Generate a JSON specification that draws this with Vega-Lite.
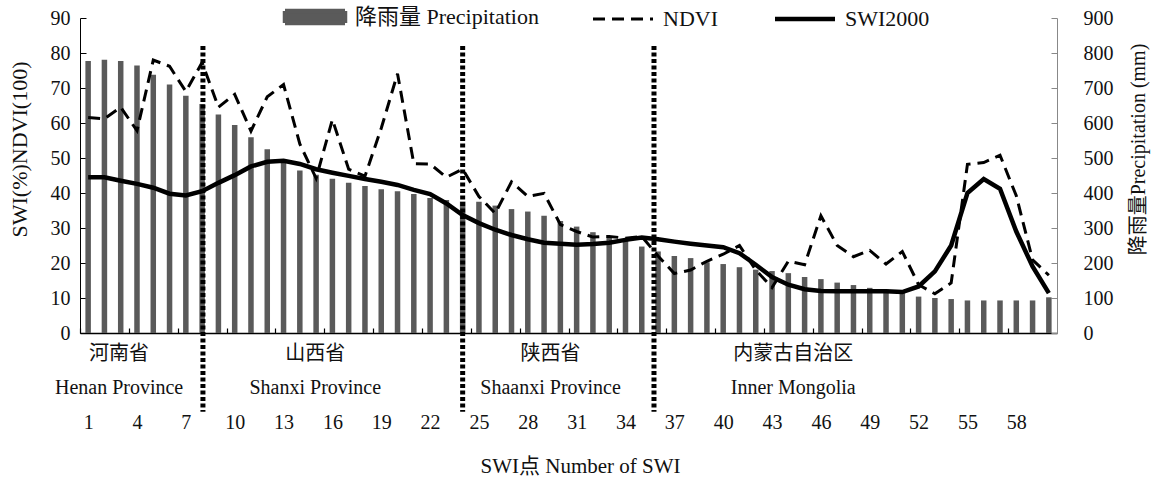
{
  "$schema": "https://vega.github.io/schema/vega-lite/v6.json",
  "width": 977,
  "height": 315,
  "autosize": "none",
  "padding": {"left": 80, "top": 18, "right": 103, "bottom": 146},
  "background": "white",
  "config": {
    "view": {"stroke": null},
    "font": "Liberation Serif, Noto Sans CJK SC",
    "axis": {"labelFont": "Liberation Serif, Noto Sans CJK SC", "titleFont": "Liberation Serif, Noto Sans CJK SC", "labelColor": "#111", "titleColor": "#111", "grid": false, "titleFontWeight": "normal"},
    "axisLeft": {
      "values": [0, 10, 20, 30, 40, 50, 60, 70, 80, 90],
      "titleFontSize": 22,
      "titleAngle": -90,
      "titleX": -61,
      "titleY": 131,
      "titleAlign": "center",
      "titleBaseline": "middle",
      "labelFontSize": 20,
      "labelPadding": 16,
      "tickSize": -6,
      "domainColor": "#000",
      "tickColor": "#000"
    },
    "legend": {"labelFont": "Liberation Serif, Noto Sans CJK SC"}
  },
  "datasets": {
    "main": [
      {"pt": 1, "precip": 777, "ndvi": 61.6, "swi": 44.5},
      {"pt": 2, "precip": 781, "ndvi": 61.2, "swi": 44.5},
      {"pt": 3, "precip": 777, "ndvi": 64.5, "swi": 43.5},
      {"pt": 4, "precip": 764, "ndvi": 57.8, "swi": 42.6},
      {"pt": 5, "precip": 738, "ndvi": 78, "swi": 41.5},
      {"pt": 6, "precip": 710, "ndvi": 76.2, "swi": 39.8},
      {"pt": 7, "precip": 678, "ndvi": 69, "swi": 39.3},
      {"pt": 8, "precip": 654, "ndvi": 77.3, "swi": 40.5},
      {"pt": 9, "precip": 624, "ndvi": 64.5, "swi": 42.9},
      {"pt": 10, "precip": 594, "ndvi": 68.2, "swi": 45.1},
      {"pt": 11, "precip": 559, "ndvi": 57.7, "swi": 47.6},
      {"pt": 12, "precip": 525, "ndvi": 67.5, "swi": 48.9},
      {"pt": 13, "precip": 495, "ndvi": 71, "swi": 49.2},
      {"pt": 14, "precip": 464, "ndvi": 54, "swi": 48.3},
      {"pt": 15, "precip": 452, "ndvi": 44.2, "swi": 46.8},
      {"pt": 16, "precip": 441, "ndvi": 61, "swi": 45.8},
      {"pt": 17, "precip": 429, "ndvi": 46.8, "swi": 44.9},
      {"pt": 18, "precip": 420, "ndvi": 44.8, "swi": 44},
      {"pt": 19, "precip": 411, "ndvi": 58.5, "swi": 43.2},
      {"pt": 20, "precip": 405, "ndvi": 74.1, "swi": 42.3},
      {"pt": 21, "precip": 397, "ndvi": 48.4, "swi": 40.9},
      {"pt": 22, "precip": 386, "ndvi": 48.3, "swi": 39.7},
      {"pt": 23, "precip": 380, "ndvi": 44.5, "swi": 37},
      {"pt": 24, "precip": 376, "ndvi": 46.8, "swi": 33.7},
      {"pt": 25, "precip": 375, "ndvi": 39, "swi": 31.4},
      {"pt": 26, "precip": 364, "ndvi": 34.2, "swi": 29.5},
      {"pt": 27, "precip": 354, "ndvi": 43.2, "swi": 28},
      {"pt": 28, "precip": 347, "ndvi": 39, "swi": 26.8},
      {"pt": 29, "precip": 335, "ndvi": 39.9, "swi": 25.8},
      {"pt": 30, "precip": 320, "ndvi": 31, "swi": 25.5},
      {"pt": 31, "precip": 304, "ndvi": 29, "swi": 25.2},
      {"pt": 32, "precip": 288, "ndvi": 27.4, "swi": 25.4},
      {"pt": 33, "precip": 276, "ndvi": 27.6, "swi": 25.8},
      {"pt": 34, "precip": 265, "ndvi": 27.1, "swi": 26.6},
      {"pt": 35, "precip": 247, "ndvi": 27.6, "swi": 27.3},
      {"pt": 36, "precip": 233, "ndvi": 22, "swi": 26.8},
      {"pt": 37, "precip": 220, "ndvi": 17, "swi": 26.1},
      {"pt": 38, "precip": 214, "ndvi": 18, "swi": 25.5},
      {"pt": 39, "precip": 202, "ndvi": 20.5, "swi": 25},
      {"pt": 40, "precip": 197, "ndvi": 22.5, "swi": 24.5},
      {"pt": 41, "precip": 188, "ndvi": 25, "swi": 22.8},
      {"pt": 42, "precip": 181, "ndvi": 18, "swi": 19.5},
      {"pt": 43, "precip": 177, "ndvi": 13, "swi": 16},
      {"pt": 44, "precip": 171, "ndvi": 20.5, "swi": 13.8},
      {"pt": 45, "precip": 160, "ndvi": 19.5, "swi": 12.5},
      {"pt": 46, "precip": 154, "ndvi": 33.5, "swi": 12},
      {"pt": 47, "precip": 144, "ndvi": 25, "swi": 11.9},
      {"pt": 48, "precip": 137, "ndvi": 21.8, "swi": 11.9},
      {"pt": 49, "precip": 129, "ndvi": 23.6, "swi": 11.9},
      {"pt": 50, "precip": 124, "ndvi": 19.7, "swi": 11.9},
      {"pt": 51, "precip": 120, "ndvi": 23.3, "swi": 11.7},
      {"pt": 52, "precip": 104, "ndvi": 13.8, "swi": 13.3},
      {"pt": 53, "precip": 100, "ndvi": 11.2, "swi": 17.6},
      {"pt": 54, "precip": 97, "ndvi": 14.3, "swi": 25},
      {"pt": 55, "precip": 93, "ndvi": 48.2, "swi": 40},
      {"pt": 56, "precip": 93, "ndvi": 48.7, "swi": 44},
      {"pt": 57, "precip": 93, "ndvi": 50.8, "swi": 41.2},
      {"pt": 58, "precip": 93, "ndvi": 39.2, "swi": 29},
      {"pt": 59, "precip": 93, "ndvi": 20.9, "swi": 19},
      {"pt": 60, "precip": 102, "ndvi": 16.5, "swi": 11.4}
    ],
    "prov": [
      {"pt": 2.9, "cn": "河南省", "en": "Henan Province"},
      {"pt": 14.95, "cn": "山西省", "en": "Shanxi Province"},
      {"pt": 29.4, "cn": "陕西省", "en": "Shaanxi Province"},
      {"pt": 44.3, "cn": "内蒙古自治区", "en": "Inner Mongolia"}
    ],
    "bounds": [
      {"pt": 8.05},
      {"pt": 24.0},
      {"pt": 35.75}
    ]
  },
  "data": {"name": "main"},
  "encoding": {
    "x": {
      "field": "pt",
      "type": "quantitative",
      "scale": {"domain": [0.5, 60.5], "nice": false, "zero": false, "padding": 0},
      "axis": {
        "values": [1, 4, 7, 10, 13, 16, 19, 22, 25, 28, 31, 34, 37, 40, 43, 46, 49, 52, 55, 58],
        "title": "SWI点 Number of SWI",
        "titleFontSize": 21,
        "titleX": 500,
        "titleY": 133,
        "titleBaseline": "middle",
        "labelFontSize": 20,
        "labelPadding": 84,
        "labelFlush": false,
        "labelOverlap": false,
        "labelAngle": 0,
        "tickSize": -5,
        "tickOffset": -8.14,
        "labelOffset": 8.14,
        "domainColor": "#000",
        "domainWidth": 1.5,
        "tickColor": "#000",
        "tickWidth": 1.2
      }
    }
  },
  "layer": [
    {
      "mark": {"type": "bar", "orient": "vertical", "width": 5.5},
      "encoding": {
        "y": {
          "field": "precip",
          "type": "quantitative",
          "scale": {"domain": [0, 900], "nice": false},
          "axis": {
            "orient": "right",
            "values": [0, 100, 200, 300, 400, 500, 600, 700, 800, 900],
            "title": "降雨量Precipitation (mm)",
            "titleFontSize": 20,
            "titleAngle": -90,
            "titleX": 81,
            "titleY": 131,
            "titleAlign": "center",
            "titleBaseline": "middle",
            "labelFontSize": 20,
            "labelPadding": 32,
            "tickSize": -6,
            "domainColor": "#888",
            "tickColor": "#888"
          }
        },
        "color": {
          "datum": "降雨量 Precipitation",
          "type": "nominal",
          "scale": {"domain": ["降雨量 Precipitation", "NDVI", "SWI2000"], "range": ["#5a5a5a", "#000000", "#000000"]},
          "legend": {
            "orient": "none",
            "legendX": 224,
            "legendY": -12,
            "direction": "horizontal",
            "title": null,
            "symbolSize": 3600,
            "labelFontSize": 22,
            "labelColor": "#111",
            "labelOffset": 29,
            "columnPadding": 48,
            "labelLimit": 400,
            "encode": {
              "symbols": {
                "update": {
                  "shape": {"signal": "datum.value === '降雨量 Precipitation' ? 'M-1,-0.2H1V0.2H-1Z' : 'M-1,0H1'"},
                  "fill": {"signal": "datum.value === '降雨量 Precipitation' ? '#5a5a5a' : 'transparent'"},
                  "stroke": {"signal": "datum.value === '降雨量 Precipitation' ? 'transparent' : '#000000'"},
                  "strokeWidth": {"signal": "datum.value === 'NDVI' ? 3 : 4.5"},
                  "strokeDash": {"signal": "datum.value === 'NDVI' ? [12, 7] : [1, 0]"},
                  "opacity": {"value": 1}
                }
              }
            }
          }
        }
      }
    },
    {
      "layer": [
        {
          "mark": {"type": "line", "strokeWidth": 3, "strokeDash": [12, 7]},
          "encoding": {
            "y": {
              "field": "ndvi",
              "type": "quantitative",
              "scale": {"domain": [0, 90], "nice": false},
              "axis": {"orient": "left", "title": "SWI(%)NDVI(100)"}
            },
            "color": {
              "datum": "NDVI",
              "type": "nominal",
              "scale": {"domain": ["降雨量 Precipitation", "NDVI", "SWI2000"], "range": ["#5a5a5a", "#000000", "#000000"]}
            }
          }
        },
        {
          "mark": {"type": "line", "strokeWidth": 4.5},
          "encoding": {
            "y": {"field": "swi", "type": "quantitative", "scale": {"domain": [0, 90], "nice": false}, "axis": {"orient": "left", "title": "SWI(%)NDVI(100)"}},
            "color": {
              "datum": "SWI2000",
              "type": "nominal",
              "scale": {"domain": ["降雨量 Precipitation", "NDVI", "SWI2000"], "range": ["#5a5a5a", "#000000", "#000000"]}
            }
          }
        },
        {
          "data": {"name": "bounds"},
          "mark": {"type": "rule", "color": "#000", "strokeWidth": 5, "strokeDash": [4, 2.5]},
          "encoding": {
            "y": {"datum": 82, "type": "quantitative", "scale": {"domain": [0, 90], "nice": false}, "axis": {"orient": "left", "title": "SWI(%)NDVI(100)"}},
            "y2": {"datum": -22.5}
          }
        },
        {
          "data": {"name": "prov"},
          "mark": {"type": "text", "fontSize": 20, "align": "center", "baseline": "middle", "color": "#111", "font": "Liberation Serif, Noto Sans CJK SC"},
          "encoding": {
            "y": {"datum": -5.9, "type": "quantitative", "scale": {"domain": [0, 90], "nice": false}, "axis": {"orient": "left", "title": "SWI(%)NDVI(100)"}},
            "text": {"field": "cn"}
          }
        },
        {
          "data": {"name": "prov"},
          "mark": {"type": "text", "fontSize": 20, "align": "center", "baseline": "middle", "color": "#111", "font": "Liberation Serif, Noto Sans CJK SC"},
          "encoding": {
            "y": {"datum": -15.7, "type": "quantitative", "scale": {"domain": [0, 90], "nice": false}, "axis": {"orient": "left", "title": "SWI(%)NDVI(100)"}},
            "text": {"field": "en"}
          }
        }
      ]
    }
  ],
  "resolve": {"scale": {"y": "independent"}, "axis": {"y": "independent"}}
}
